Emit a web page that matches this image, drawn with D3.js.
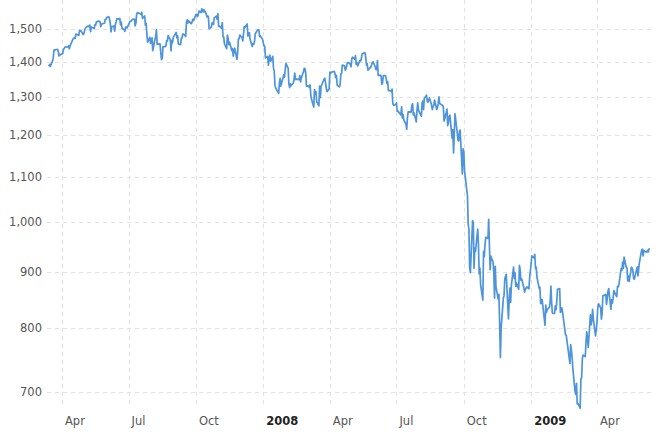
<!DOCTYPE html>
<html>
<head>
<meta charset="utf-8">
<script src="https://cdn.jsdelivr.net/npm/d3@7"></script>
<style>
html,body{margin:0;padding:0;background:#fff;}
svg{display:block;}
text{font-family:"DejaVu Sans",Verdana,sans-serif;}
</style>
</head>
<body>
<svg id="chart" width="660" height="438"></svg>
<script>
// S&P 500 daily closes (log scale)
const sp2007 = [
["03-14",1387.17],["03-15",1392.28],["03-16",1386.95],["03-19",1402.06],["03-20",1410.94],["03-21",1435.04],["03-22",1434.54],["03-23",1436.11],["03-26",1437.50],["03-27",1428.61],["03-28",1417.23],["03-29",1422.53],["03-30",1420.86],
["04-02",1424.55],["04-03",1437.77],["04-04",1439.37],["04-05",1443.76],["04-09",1444.61],["04-10",1448.39],["04-11",1438.87],["04-12",1447.80],["04-13",1452.85],["04-16",1468.33],["04-17",1471.48],["04-18",1472.50],["04-19",1470.73],["04-20",1484.35],["04-23",1480.93],["04-24",1480.41],["04-25",1495.42],["04-26",1494.25],["04-27",1494.07],["04-30",1482.37],
["05-01",1486.30],["05-02",1495.92],["05-03",1502.39],["05-04",1505.62],["05-07",1509.48],["05-08",1507.72],["05-09",1512.58],["05-10",1491.47],["05-11",1505.85],["05-14",1503.15],["05-15",1501.19],["05-16",1514.14],["05-17",1512.75],["05-18",1522.75],["05-21",1525.10],["05-22",1524.12],["05-23",1522.28],["05-24",1507.51],["05-25",1515.73],["05-29",1518.11],["05-30",1530.23],["05-31",1530.62],
["06-01",1536.34],["06-04",1539.18],["06-05",1530.95],["06-06",1517.38],["06-07",1490.72],["06-08",1507.67],["06-11",1509.12],["06-12",1493.00],["06-13",1515.67],["06-14",1522.97],["06-15",1532.91],["06-18",1531.05],["06-19",1533.70],["06-20",1512.84],["06-21",1522.19],["06-22",1502.56],["06-25",1497.74],["06-26",1492.89],["06-27",1506.34],["06-28",1505.71],["06-29",1503.35],
["07-02",1519.43],["07-03",1524.87],["07-05",1525.40],["07-06",1530.44],["07-09",1531.85],["07-10",1510.12],["07-11",1518.76],["07-12",1547.70],["07-13",1552.50],["07-16",1549.52],["07-17",1549.37],["07-18",1546.17],["07-19",1553.08],["07-20",1534.10],["07-23",1541.57],["07-24",1511.04],["07-25",1518.09],["07-26",1482.66],["07-27",1458.95],["07-30",1473.91],["07-31",1455.27],
["08-01",1465.81],["08-02",1472.20],["08-03",1433.06],["08-06",1467.67],["08-07",1476.71],["08-08",1497.49],["08-09",1453.09],["08-10",1453.64],["08-13",1452.92],["08-14",1426.54],["08-15",1406.70],["08-16",1411.27],["08-17",1445.94],["08-20",1445.55],["08-21",1447.12],["08-22",1464.07],["08-23",1462.50],["08-24",1479.37],["08-27",1466.79],["08-28",1432.36],["08-29",1463.76],["08-30",1457.64],["08-31",1473.99],
["09-04",1489.42],["09-05",1472.29],["09-06",1478.55],["09-07",1453.55],["09-10",1451.70],["09-11",1471.49],["09-12",1471.56],["09-13",1483.95],["09-14",1484.25],["09-17",1476.65],["09-18",1519.78],["09-19",1529.03],["09-20",1518.75],["09-21",1525.75],["09-24",1517.73],["09-25",1517.21],["09-26",1525.42],["09-27",1531.38],["09-28",1526.75],
["10-01",1547.04],["10-02",1546.63],["10-03",1539.59],["10-04",1542.84],["10-05",1557.59],["10-08",1552.58],["10-09",1565.15],["10-10",1562.47],["10-11",1554.41],["10-12",1561.80],["10-15",1548.71],["10-16",1538.53],["10-17",1541.24],["10-18",1540.08],["10-19",1500.63],["10-22",1506.33],["10-23",1519.59],["10-24",1515.88],["10-25",1514.40],["10-26",1535.28],["10-29",1540.98],["10-30",1531.02],["10-31",1549.38],
["11-01",1508.44],["11-02",1509.65],["11-05",1502.17],["11-06",1520.27],["11-07",1475.62],["11-08",1474.77],["11-09",1453.70],["11-12",1439.18],["11-13",1481.05],["11-14",1470.58],["11-15",1451.15],["11-16",1458.74],["11-19",1433.27],["11-20",1439.70],["11-21",1416.77],["11-23",1440.70],["11-26",1407.22],["11-27",1428.23],["11-28",1469.02],["11-29",1469.72],["11-30",1481.14],
["12-03",1472.42],["12-04",1462.79],["12-05",1485.01],["12-06",1507.34],["12-07",1504.66],["12-10",1515.96],["12-11",1477.65],["12-12",1486.59],["12-13",1488.41],["12-14",1467.95],["12-17",1445.90],["12-18",1454.98],["12-19",1453.00],["12-20",1460.12],["12-21",1484.46],["12-24",1496.45],["12-26",1497.66],["12-27",1476.27],["12-28",1478.49],["12-31",1468.36]
];
const sp2008 = [
["01-02",1447.16],["01-03",1447.16],["01-04",1411.63],["01-07",1416.18],["01-08",1390.19],["01-09",1409.13],["01-10",1420.33],["01-11",1401.02],["01-14",1416.25],["01-15",1380.95],["01-16",1373.20],["01-17",1333.25],["01-18",1325.19],["01-22",1310.50],["01-23",1338.60],["01-24",1352.07],["01-25",1330.61],["01-28",1353.96],["01-29",1362.30],["01-30",1355.81],["01-31",1378.55],
["02-01",1395.42],["02-04",1380.82],["02-05",1336.64],["02-06",1326.45],["02-07",1336.91],["02-08",1331.29],["02-11",1339.13],["02-12",1348.86],["02-13",1367.21],["02-14",1348.86],["02-15",1349.99],["02-19",1348.78],["02-20",1360.03],["02-21",1342.53],["02-22",1353.11],["02-25",1371.80],["02-26",1381.29],["02-27",1380.02],["02-28",1367.68],["02-29",1330.63],
["03-03",1331.34],["03-04",1326.75],["03-05",1333.70],["03-06",1304.34],["03-07",1293.37],["03-10",1273.37],["03-11",1320.65],["03-12",1308.77],["03-13",1315.48],["03-14",1288.14],["03-17",1276.60],["03-18",1330.74],["03-19",1298.42],["03-20",1329.51],["03-24",1349.88],["03-25",1352.99],["03-26",1341.13],["03-27",1325.76],["03-28",1315.22],["03-31",1322.70],
["04-01",1370.18],["04-02",1367.53],["04-03",1369.31],["04-04",1370.40],["04-07",1372.54],["04-08",1365.54],["04-09",1354.49],["04-10",1360.55],["04-11",1332.83],["04-14",1328.32],["04-15",1334.43],["04-16",1364.71],["04-17",1365.56],["04-18",1390.33],["04-21",1388.17],["04-22",1375.94],["04-23",1379.93],["04-24",1388.82],["04-25",1397.84],["04-28",1396.37],["04-29",1390.94],["04-30",1385.59],
["05-01",1409.34],["05-02",1413.90],["05-05",1407.49],["05-06",1418.26],["05-07",1392.57],["05-08",1397.68],["05-09",1388.28],["05-12",1403.58],["05-13",1403.04],["05-14",1408.66],["05-15",1423.57],["05-16",1425.35],["05-19",1426.63],["05-20",1413.40],["05-21",1390.71],["05-22",1394.35],["05-23",1375.93],["05-27",1385.35],["05-28",1390.84],["05-29",1398.26],["05-30",1400.38],
["06-02",1385.67],["06-03",1377.65],["06-04",1377.20],["06-05",1404.05],["06-06",1360.68],["06-09",1361.76],["06-10",1358.44],["06-11",1335.49],["06-12",1339.87],["06-13",1360.03],["06-16",1360.14],["06-17",1350.93],["06-18",1337.81],["06-19",1342.83],["06-20",1317.93],["06-23",1318.00],["06-24",1314.29],["06-25",1321.97],["06-26",1283.15],["06-27",1278.38],["06-30",1280.00],
["07-01",1284.91],["07-02",1261.52],["07-03",1262.90],["07-07",1252.31],["07-08",1273.70],["07-09",1244.69],["07-10",1253.39],["07-11",1239.49],["07-14",1228.30],["07-15",1214.91],["07-16",1245.36],["07-17",1260.32],["07-18",1260.68],["07-21",1260.00],["07-22",1277.00],["07-23",1282.19],["07-24",1252.54],["07-25",1257.76],["07-28",1234.37],["07-29",1263.20],["07-30",1284.26],["07-31",1267.38],
["08-01",1260.31],["08-04",1249.01],["08-05",1284.88],["08-06",1289.19],["08-07",1266.07],["08-08",1296.32],["08-11",1305.32],["08-12",1289.59],["08-13",1285.83],["08-14",1292.93],["08-15",1298.20],["08-18",1278.60],["08-19",1266.69],["08-20",1274.54],["08-21",1277.72],["08-22",1292.20],["08-25",1266.84],["08-26",1271.51],["08-27",1281.66],["08-28",1300.68],["08-29",1282.83],
["09-02",1277.58],["09-03",1274.98],["09-04",1236.83],["09-05",1242.31],["09-08",1267.79],["09-09",1224.51],["09-10",1232.04],["09-11",1249.05],["09-12",1251.70],["09-15",1192.70],["09-16",1213.60],["09-17",1156.39],["09-18",1206.51],["09-19",1255.08],["09-22",1207.09],["09-23",1188.22],["09-24",1185.87],["09-25",1209.18],["09-26",1213.27],["09-29",1106.39],["09-30",1166.36],
["10-01",1161.06],["10-02",1114.28],["10-03",1099.23],["10-06",1056.89],["10-07",996.23],["10-08",984.94],["10-09",909.92],["10-10",899.22],["10-13",1003.35],["10-14",998.01],["10-15",907.84],["10-16",946.43],["10-17",940.55],["10-20",985.40],["10-21",955.05],["10-22",896.78],["10-23",908.11],["10-24",876.77],["10-27",848.92],["10-28",940.51],["10-29",930.09],["10-30",954.09],["10-31",968.75],
["11-03",966.30],["11-04",1005.75],["11-05",952.77],["11-06",904.88],["11-07",930.99],["11-10",919.21],["11-11",898.95],["11-12",852.30],["11-13",911.29],["11-14",873.29],["11-17",850.75],["11-18",859.12],["11-19",806.58],["11-20",752.44],["11-21",800.03],["11-24",851.81],["11-25",857.39],["11-26",887.68],["11-28",896.24],
["12-01",816.21],["12-02",848.81],["12-03",870.74],["12-04",845.22],["12-05",876.07],["12-08",909.70],["12-09",888.67],["12-10",899.24],["12-11",873.59],["12-12",879.73],["12-15",868.57],["12-16",913.18],["12-17",904.42],["12-18",885.28],["12-19",887.88],["12-22",871.63],["12-23",863.16],["12-24",868.15],["12-26",872.80],["12-29",869.42],["12-30",890.64],["12-31",903.25]
];
const sp2009 = [
["01-02",931.80],["01-05",927.45],["01-06",934.70],["01-07",906.65],["01-08",909.73],["01-09",890.35],["01-12",870.26],["01-13",871.79],["01-14",842.62],["01-15",843.74],["01-16",850.12],["01-20",805.22],["01-21",840.24],["01-22",827.50],["01-23",831.95],["01-26",836.57],["01-27",845.71],["01-28",874.09],["01-29",845.14],["01-30",825.88],
["02-02",825.44],["02-03",838.51],["02-04",832.23],["02-05",845.85],["02-06",868.60],["02-09",869.89],["02-10",827.16],["02-11",833.74],["02-12",835.19],["02-13",826.84],["02-17",789.17],["02-18",788.42],["02-19",778.94],["02-20",770.05],["02-23",743.33],["02-24",773.14],["02-25",764.90],["02-26",752.83],["02-27",735.09],
["03-02",700.82],["03-03",696.33],["03-04",712.87],["03-05",682.55],["03-06",683.38],["03-09",676.53],["03-10",719.60],["03-11",721.36],["03-12",750.74],["03-13",756.55],["03-16",753.89],["03-17",778.12],["03-18",794.35],["03-19",784.04],["03-20",768.54],["03-23",822.92],["03-24",806.12],["03-25",813.88],["03-26",832.86],["03-27",815.94],["03-30",787.53],["03-31",797.87],
["04-01",811.08],["04-02",834.38],["04-03",842.50],["04-06",835.48],["04-07",815.55],["04-08",825.16],["04-09",856.56],["04-13",858.73],["04-14",841.50],["04-15",852.06],["04-16",865.30],["04-17",869.60],["04-20",832.39],["04-21",850.08],["04-22",843.55],["04-23",851.92],["04-24",866.23],["04-27",857.51],["04-28",855.16],["04-29",873.64],["04-30",872.81],
["05-01",877.52],["05-04",907.24],["05-05",903.80],["05-06",919.53],["05-07",907.39],["05-08",929.23],["05-11",909.24],["05-12",908.35],["05-13",883.92],["05-14",893.07],["05-15",882.88],["05-18",909.71],["05-19",908.13],["05-20",903.47],["05-21",888.33],["05-22",887.00],["05-26",910.33],["05-27",893.06],["05-28",906.83],["05-29",919.14],
["06-01",942.87],["06-02",944.74],["06-03",931.76],["06-04",942.46],["06-05",940.09],["06-08",939.14],["06-09",942.43],["06-10",939.15],["06-11",944.89],["06-12",946.21]
];
const yTicks = [700, 800, 900, 1000, 1100, 1200, 1300, 1400, 1500];
const xTickDates = ["2007-04-01","2007-07-01","2007-10-01","2008-01-01","2008-04-01","2008-07-01","2008-10-01","2009-01-01","2009-04-01"];
const monthNames = ["Jan","Feb","Mar","Apr","May","Jun","Jul","Aug","Sep","Oct","Nov","Dec"];

(function () {
const parse = d3.timeParse("%Y-%m-%d");
const series = [].concat(
  sp2007.map(d => ({date: parse("2007-" + d[0]), value: d[1]})),
  sp2008.map(d => ({date: parse("2008-" + d[0]), value: d[1]})),
  sp2009.map(d => ({date: parse("2009-" + d[0]), value: d[1]}))
);

const plotL = 47, plotR = 655, plotT = 0, plotB = 408;
const svg = d3.select("#chart");

const x = d3.scaleTime()
  .domain([parse("2007-04-01"), parse("2009-04-01")])
  .range([62, 597]);
const y = d3.scaleLog()
  .domain([700, 1500])
  .range([392, 29]);

// horizontal grid
svg.append("g").selectAll("line").data(yTicks).join("line")
  .attr("x1", plotL).attr("x2", plotR)
  .attr("y1", d => Math.round(y(d)) + 0.5).attr("y2", d => Math.round(y(d)) + 0.5)
  .attr("stroke", "#e2e2e2").attr("stroke-width", 1).attr("stroke-dasharray", "4,4");

// vertical grid
const xt = xTickDates.map(parse);
svg.append("g").selectAll("line").data(xt).join("line")
  .attr("x1", d => Math.round(x(d)) + 0.5).attr("x2", d => Math.round(x(d)) + 0.5)
  .attr("y1", plotT).attr("y2", plotB)
  .attr("stroke", "#e2e2e2").attr("stroke-width", 1).attr("stroke-dasharray", "4,4");

// y labels
svg.append("g").selectAll("text").data(yTicks).join("text")
  .attr("x", 42).attr("y", d => y(d))
  .attr("dy", "0.35em")
  .attr("text-anchor", "end")
  .attr("font-size", 11.5)
  .attr("fill", "#555")
  .text(d => d3.format(",")(d));

// x labels
svg.append("g").selectAll("text").data(xt).join("text")
  .attr("x", d => x(d) + 3).attr("y", 425)
  .attr("text-anchor", "start")
  .attr("font-size", 11.5)
  .attr("font-weight", d => d.getMonth() === 0 ? "bold" : "normal")
  .attr("fill", d => d.getMonth() === 0 ? "#222" : "#555")
  .text(d => d.getMonth() === 0 ? d.getFullYear() : monthNames[d.getMonth()]);

// line
const line = d3.line().x(d => x(d.date)).y(d => y(d.value));
svg.append("path").datum(series)
  .attr("d", line)
  .attr("fill", "none")
  .attr("stroke", "#4d94db")
  .attr("stroke-width", 1.7)
  .attr("stroke-linejoin", "round");
})();
</script>
</body>
</html>
